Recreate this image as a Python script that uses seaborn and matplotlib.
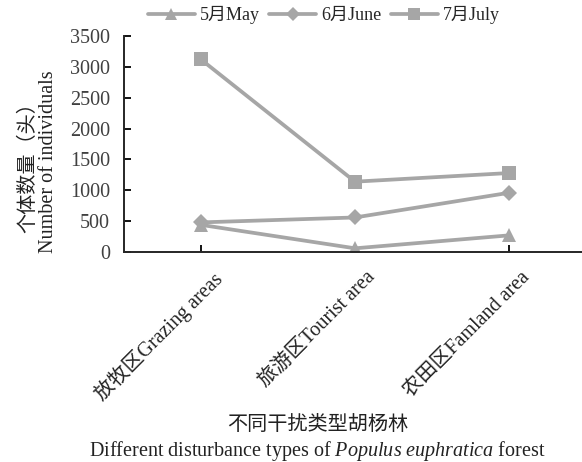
import pandas as pd
import numpy as np
import matplotlib
matplotlib.use("Agg")
import matplotlib.pyplot as plt
import matplotlib.transforms as mtrans
import seaborn as sns

areas = ["放牧区Grazing areas", "旅游区Tourist area", "农田区Famland area"]
months = ["5月May", "6月June", "7月July"]
may = [440, 60, 270]
june = [480, 560, 960]
july = [3120, 1140, 1280]

df = pd.DataFrame({
    "area": areas * 3,
    "month": [m for m in months for _ in areas],
    "count": may + june + july,
})

sns.set_style("ticks")
plt.rcParams['font.family'] = ['Liberation Serif', 'Noto Sans CJK SC']
plt.rcParams['mathtext.fontset'] = 'custom'
plt.rcParams['mathtext.rm'] = 'Liberation Serif'
plt.rcParams['mathtext.it'] = 'Liberation Serif:italic'

grey = "#a6a6a6"
fig = plt.figure(figsize=(5.82, 4.62), dpi=100)
ax = fig.add_axes([0.213, 0.4545, 0.794, 0.4675])

sns.lineplot(data=df, x="area", y="count", hue="month", style="month",
             palette=[grey] * 3, markers={"5月May": "^", "6月June": "D", "7月July": "s"},
             dashes=False, linewidth=2.7, markersize=10.5, markeredgewidth=0,
             ax=ax, sort=False)
for ln in ax.lines:
    if ln.get_marker() == "D":
        ln.set_markersize(8.5)

ax.set_xlim(-0.5, 2.5)
ax.set_ylim(0, 3500)
ax.set_yticks(np.arange(0, 3501, 500))
ax.tick_params(direction="in", length=5, width=1.3, labelsize=14.5, colors="black")
ax.tick_params(axis="y", labelcolor="#404040", pad=10)
ax.tick_params(axis="x", labelcolor="#222222", pad=0)

fig.canvas.draw()
shift = mtrans.ScaledTranslation(0.11, -0.16, fig.dpi_scale_trans)
for lab in ax.get_xticklabels():
    lab.set_rotation(45)
    lab.set_rotation_mode("anchor")
    lab.set_ha("right")
    lab.set_va("top")
    lab.set_transform(lab.get_transform() + shift)

for s in ["top", "right"]:
    ax.spines[s].set_visible(False)
for s in ["left", "bottom"]:
    ax.spines[s].set_linewidth(1.4)

ax.set_xlabel("")
ax.set_ylabel("")
fig.text(0.066, 0.649, "个体数量（头）\nNumber of individuals", rotation=90,
         ha="center", va="center", fontsize=14.5, color="#222222", linespacing=1.1)

fig.text(0.546, 0.049, "不同干扰类型胡杨林\nDifferent disturbance types of $\\it{Populus\\ euphratica}$ forest",
         ha="center", va="center", fontsize=14.5, color="#222222", linespacing=1.2)

ax.legend(loc="center", bbox_to_anchor=(0.557, 0.967), bbox_transform=fig.transFigure,
          ncol=3, frameon=False, fontsize=13, handlelength=2.6, columnspacing=0.5,
          handletextpad=0.3, markerscale=0.85)

fig.savefig("out.png", dpi=100)
